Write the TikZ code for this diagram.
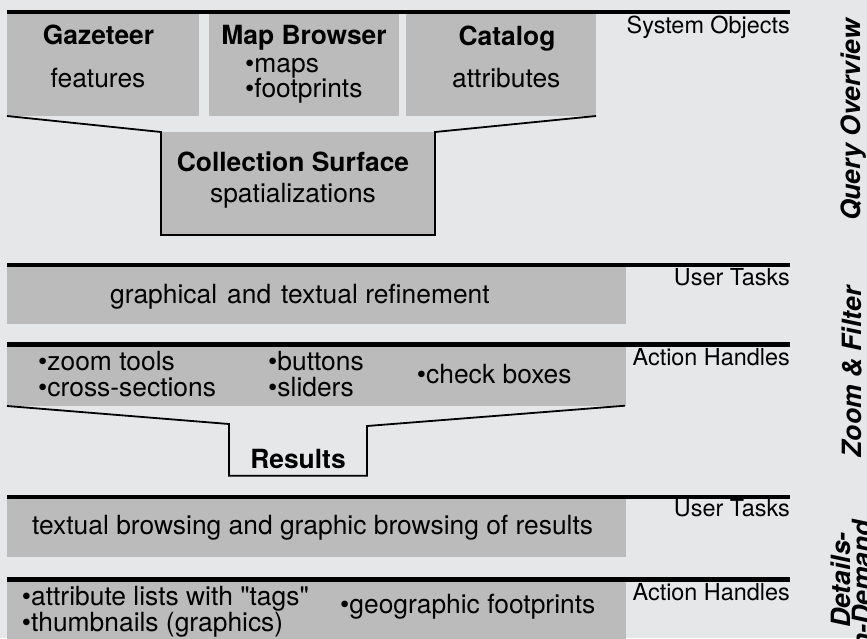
\documentclass[tikz,border=0pt]{standalone}
\usepackage{fontspec}
\newfontfamily\heros{TeX Gyre Heros}
\definecolor{bg}{RGB}{230,231,233}
\definecolor{boxgray}{RGB}{187,187,187}
\begin{document}
\begin{tikzpicture}[x=1pt,y=-1pt,
  band/.style={fill=boxgray,draw=none,inner sep=0pt,outer sep=0pt,anchor=north west},
  topline/.style={line width=4.4pt},
  funnel/.style={line width=1.8pt,line join=miter},
  txt/.style={font=\heros\fontsize{26.4}{30}\selectfont,inner sep=0pt},
  btxt/.style={font=\heros\fontsize{26.4}{30}\selectfont\bfseries,inner sep=0pt},
  side/.style={font=\heros\fontsize{23.4}{28}\selectfont,inner sep=0pt,anchor=base east},
  phase/.style={font=\heros\fontsize{26.5}{30}\selectfont\bfseries\itshape,inner sep=0pt,rotate=90,anchor=base}]

\fill[bg] (0,0) rectangle (867,638);
\useasboundingbox (0,0) rectangle (867,638);

% ---------- Query Overview ----------
\node[band,minimum width=192pt,minimum height=102pt] (gaz) at (7,14) {};
\node[band,minimum width=190pt,minimum height=102pt] (map) at (209,14) {};
\node[band,minimum width=190pt,minimum height=102pt] (cat) at (406,14) {};
\node[band,minimum width=274pt,minimum height=103pt] (coll) at (161,132) {};
\coordinate (l1a) at (7,11.7);
\coordinate (l1b) at (790,11.7);
\draw[topline] (l1a) -- (l1b);
\draw[funnel] (gaz.south west) -- (coll.north west) -- (coll.south west)
  -- (coll.south east) -- (coll.north east) -- (cat.south east);

\node[btxt,anchor=base] (tgaz) at (98.5,44.5) {Gazeteer};
\node[txt,anchor=base] (tfeat) at (98,87.3) {features};
\node[btxt,anchor=base] (tmap) at (304,44.5) {Map Browser};
\node[txt,anchor=base west] (tmaps) at (245,72.5) {•maps};
\node[txt,anchor=base west] (tfoot) at (245,97.5) {•footprints};
\node[btxt,anchor=base] (tcat) at (507,45) {Catalog};
\node[txt,anchor=base] (tattr) at (506.3,87.3) {attributes};
\node[btxt,anchor=base] (tcoll) at (293,171.7) {Collection Surface};
\node[txt,anchor=base] (tspat) at (293,202.3) {spatializations};
\node[side] (so) at (790,33.3) {System Objects};

% ---------- Zoom & Filter ----------
\coordinate (l2a) at (7,265);
\coordinate (l2b) at (790,265);
\node[band,minimum width=619pt,minimum height=57pt] (ref) at (7,267) {};
\draw[topline] (l2a) -- (l2b);
\node[txt,anchor=base west] (tref) at (110,303.3)
  {graphical\hspace{10pt}and\hspace{10pt}textual refinement};
\node[side] (ut1) at (790,285) {User Tasks};

\coordinate (l3a) at (7,344.3);
\coordinate (l3b) at (790,344.3);
\node[band,minimum width=619pt,minimum height=59.5pt] (act) at (7,346.5) {};
\draw[topline] (l3a) -- (l3b);
\coordinate (r1) at (229,424);
\coordinate (r2) at (229,475.7);
\coordinate (r3) at (367,475.7);
\coordinate (r4) at (367,426);
\coordinate (r5) at (625,405.7);
\draw[funnel] (act.south west) -- (r1) -- (r2) -- (r3) -- (r4) -- (r5);
\node[txt,anchor=base west] (tzt) at (38,370) {•zoom tools};
\node[txt,anchor=base west] (tcs) at (38,396.7) {•cross-sections};
\node[txt,anchor=base west] (tbt) at (268,370) {•buttons};
\node[txt,anchor=base west] (tsl) at (268,396.7) {•sliders};
\node[txt,anchor=base west] (tcb) at (416.7,383.3) {•check boxes};
\node[btxt,anchor=base] (tres) at (298,468.3) {Results};
\node[side] (ah1) at (790,365) {Action Handles};

% ---------- Details-on-Demand ----------
\coordinate (l4a) at (7,497);
\coordinate (l4b) at (790,497);
\node[band,minimum width=619pt,minimum height=58pt] (brw) at (7,499) {};
\draw[topline] (l4a) -- (l4b);
\node[txt,anchor=base west] (tbrw) at (32,534.3)
  {textual browsing and graphic browsing of results};
\node[side] (ut2) at (790,516.7) {User Tasks};

\coordinate (l5a) at (7,579.5);
\coordinate (l5b) at (790,579.5);
\node[band,minimum width=619pt,minimum height=60pt] (hdl) at (7,582) {};
\draw[topline] (l5a) -- (l5b);
\node[txt,anchor=base west] (tal) at (21.7,605.3) {•attribute lists with "tags"};
\node[txt,anchor=base west] (tth) at (21.7,631) {•thumbnails (graphics)};
\node[txt,anchor=base west] (tgf) at (340,613.3) {•geographic footprints};
\node[side] (ah2) at (790,600.7) {Action Handles};

% ---------- phase labels ----------
\node[phase] (qo) at (860,120) {Query Overview};
\node[phase] (zf) at (861,372) {Zoom \& Filter};
\node[phase] (dd1) at (850,580) {Details-};
\node[phase] (dd2) at (871,593) {on-Demand};
\end{tikzpicture}
\end{document}
